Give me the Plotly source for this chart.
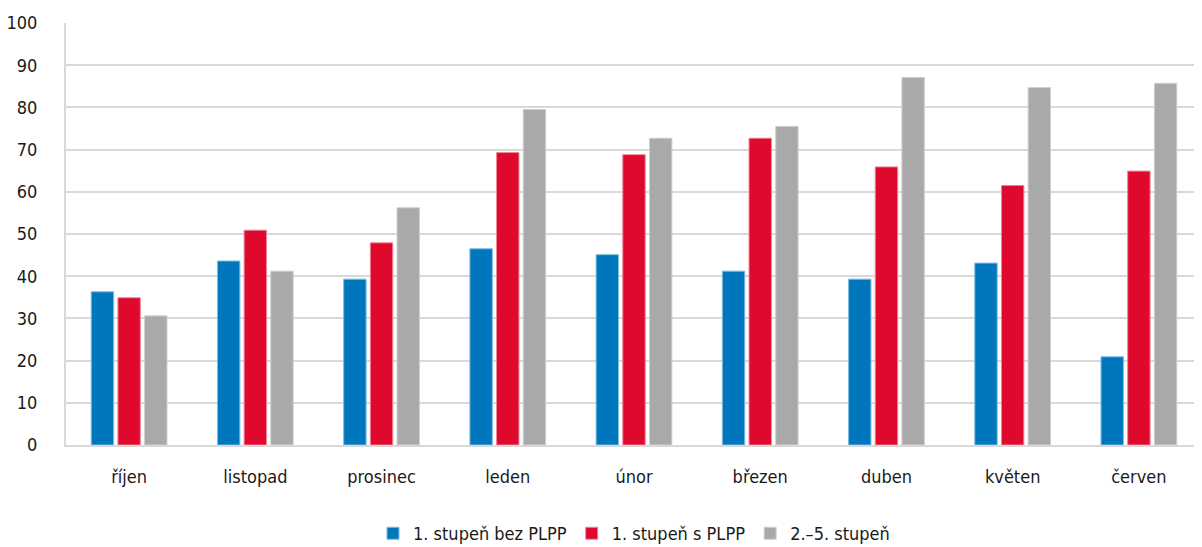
import plotly.graph_objects as go

months = ["říjen", "listopad", "prosinec", "leden", "únor", "březen", "duben", "květen", "červen"]
series_names = ["1. stupeň bez PLPP", "1. stupeň s PLPP", "2.–5. stupeň"]
bez_plpp = [36.3, 43.6, 39.3, 46.5, 45.1, 41.2, 39.3, 43.1, 20.9]
s_plpp = [34.9, 50.9, 47.9, 69.3, 68.8, 72.7, 65.9, 61.5, 64.9]
stupen_2_5 = [30.6, 41.2, 56.2, 79.5, 72.7, 75.5, 87.1, 84.7, 85.7]
y_ticks = [0, 10, 20, 30, 40, 50, 60, 70, 80, 90, 100]

colors = ["#0077BD", "#DE092D", "#A9A9A9"]
edges = ["#7fbbe0", "#f08496", "#cfcfcf"]

font_family = "DejaVu Sans Condensed, Liberation Sans Narrow, sans-serif"

fig = go.Figure()
for name, vals, c, e in zip(series_names, [bez_plpp, s_plpp, stupen_2_5], colors, edges):
    fig.add_trace(go.Bar(x=months, y=vals, name=name,
                         marker=dict(color=c, line=dict(color=e, width=1))))

# page body has an 8px default margin, so the figure is drawn 8px smaller
fig.update_layout(
    width=1194, height=539,
    margin=dict(l=58, r=0, t=15, b=102, autoexpand=False),
    paper_bgcolor="white", plot_bgcolor="white",
    barmode="group", bargap=0.366, bargroupgap=0.16,
    font=dict(family=font_family, size=18, color="#1a1a1a"),
    showlegend=True,
    legend=dict(orientation="h", x=0.5, xanchor="center", y=-0.166, yanchor="top",
                font=dict(size=18), itemwidth=30, traceorder="normal"),
    xaxis=dict(showline=True, linecolor="#d9d9d9", linewidth=2, ticks="",
               tickfont=dict(size=18), showgrid=False, automargin=False,
               ticklabelstandoff=14),
    yaxis=dict(range=[0, 100], tickvals=y_ticks, showgrid=True, gridcolor="#d9d9d9",
               gridwidth=2, showline=True, linecolor="#d9d9d9", linewidth=2,
               ticks="", ticklabelstandoff=23, zeroline=False, automargin=False,
               tickfont=dict(size=18)),
)

fig.write_html("out.html")
